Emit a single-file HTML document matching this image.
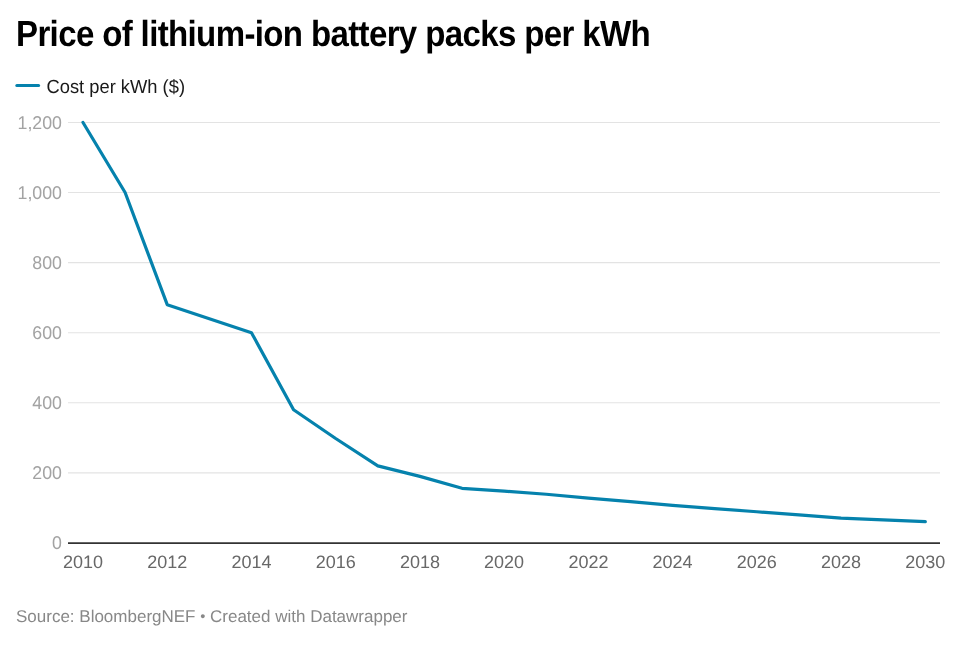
<!DOCTYPE html>
<html><head><meta charset="utf-8">
<style>
html,body{margin:0;padding:0;background:#fff;width:960px;height:650px;overflow:hidden;}
svg{display:block;will-change:transform;}
text{font-family:"Liberation Sans", sans-serif;text-rendering:geometricPrecision;}
.title{font-weight:bold;font-size:36.3px;fill:#000;letter-spacing:-0.7px;}
.leg{font-size:19px;fill:#1a1a1a;}
.yl{font-size:18.5px;fill:#a3a3a3;}
.xl{font-size:18px;fill:#686868;}
.src{font-size:17px;fill:#888;}
</style></head><body>
<svg width="960" height="650" viewBox="0 0 960 650">
<text x="16" y="46.1" class="title" textLength="634" lengthAdjust="spacingAndGlyphs">Price of lithium-ion battery packs per kWh</text>
<line x1="16.8" x2="38.6" y1="85.5" y2="85.5" stroke="#0582ad" stroke-width="3" stroke-linecap="round"/>
<text x="46.5" y="92.7" class="leg" textLength="138.5" lengthAdjust="spacingAndGlyphs">Cost per kWh ($)</text>
<line x1="68" x2="940" y1="122.45" y2="122.45" stroke="#e3e3e3" stroke-width="1.1"/>
<line x1="68" x2="940" y1="192.53" y2="192.53" stroke="#e3e3e3" stroke-width="1.1"/>
<line x1="68" x2="940" y1="262.62" y2="262.62" stroke="#e3e3e3" stroke-width="1.1"/>
<line x1="68" x2="940" y1="332.70" y2="332.70" stroke="#e3e3e3" stroke-width="1.1"/>
<line x1="68" x2="940" y1="402.78" y2="402.78" stroke="#e3e3e3" stroke-width="1.1"/>
<line x1="68" x2="940" y1="472.87" y2="472.87" stroke="#e3e3e3" stroke-width="1.1"/>

<text transform="translate(62,128.65) scale(0.96,1)" text-anchor="end" class="yl">1,200</text>
<text transform="translate(62,198.73) scale(0.96,1)" text-anchor="end" class="yl">1,000</text>
<text transform="translate(62,268.82) scale(0.96,1)" text-anchor="end" class="yl">800</text>
<text transform="translate(62,338.90) scale(0.96,1)" text-anchor="end" class="yl">600</text>
<text transform="translate(62,408.98) scale(0.96,1)" text-anchor="end" class="yl">400</text>
<text transform="translate(62,479.07) scale(0.96,1)" text-anchor="end" class="yl">200</text>
<text transform="translate(62,549.15) scale(0.96,1)" text-anchor="end" class="yl">0</text>

<line x1="68" x2="940" y1="543.2" y2="543.2" stroke="#333" stroke-width="1.8"/>
<text x="83.0" y="567.5" text-anchor="middle" class="xl">2010</text>
<text x="167.2" y="567.5" text-anchor="middle" class="xl">2012</text>
<text x="251.5" y="567.5" text-anchor="middle" class="xl">2014</text>
<text x="335.7" y="567.5" text-anchor="middle" class="xl">2016</text>
<text x="419.9" y="567.5" text-anchor="middle" class="xl">2018</text>
<text x="504.1" y="567.5" text-anchor="middle" class="xl">2020</text>
<text x="588.4" y="567.5" text-anchor="middle" class="xl">2022</text>
<text x="672.6" y="567.5" text-anchor="middle" class="xl">2024</text>
<text x="756.8" y="567.5" text-anchor="middle" class="xl">2026</text>
<text x="841.1" y="567.5" text-anchor="middle" class="xl">2028</text>
<text x="925.3" y="567.5" text-anchor="middle" class="xl">2030</text>

<polyline points="83.00,122.45 125.11,192.53 167.23,304.67 209.34,318.68 251.46,332.70 293.57,409.79 335.69,438.53 377.80,465.86 419.92,476.37 462.03,488.29 504.15,491.09 546.26,494.24 588.38,498.10 630.50,501.60 672.61,505.46 714.73,508.61 756.84,511.76 798.95,514.92 841.07,518.07 883.18,519.82 925.30,521.57" fill="none" stroke="#0582ad" stroke-width="3.2" stroke-linejoin="round" stroke-linecap="round"/>
<text x="16" y="621.5" class="src" textLength="391.5" lengthAdjust="spacingAndGlyphs">Source: BloombergNEF <tspan font-size="14.5" dy="-0.4">•</tspan><tspan dy="0.4"> Created with Datawrapper</tspan></text>
</svg>
</body></html>
